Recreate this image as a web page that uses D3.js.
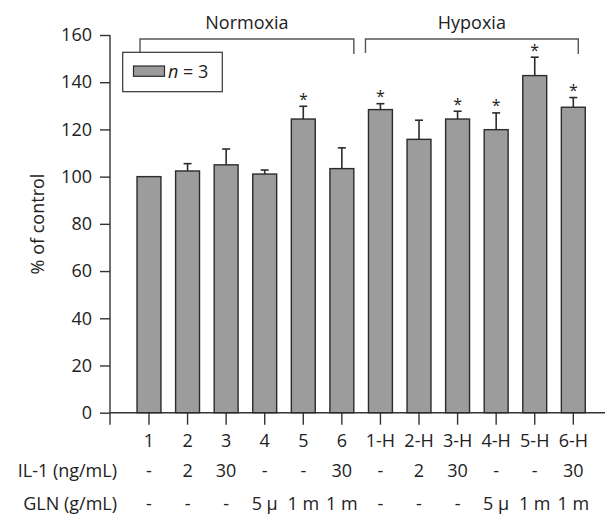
<!DOCTYPE html>
<html>
<head>
<meta charset="utf-8">
<script src="https://cdn.jsdelivr.net/npm/d3@7"></script>
<style>
  body { margin: 0; background: #fff; }
  svg text { font-family: "Open Sans", "Noto Sans", sans-serif; fill: #222; }
</style>
</head>
<body>
<div id="chart"></div>
<script>
// chart values
const categories = ["1", "2", "3", "4", "5", "6", "1-H", "2-H", "3-H", "4-H", "5-H", "6-H"];
const means = [100, 102.4, 105, 101.1, 124.4, 103.4, 128.4, 115.8, 124.4, 119.9, 142.8, 129.4];
const upperErr = [0, 3.1, 6.7, 1.7, 5.4, 8.8, 2.5, 8.1, 3.3, 7.1, 7.8, 4.1];
const significant = [false, false, false, false, true, false, true, false, true, true, true, true];
const il1Doses = ["-", "2", "30", "-", "-", "30", "-", "2", "30", "-", "-", "30"];
const glnDoses = ["-", "-", "-", "5 μ", "1 m", "1 m", "-", "-", "-", "5 μ", "1 m", "1 m"];
const groupNames = ["Normoxia", "Hypoxia"];
const groupFirst = ["1", "1-H"];
const groupLast = ["6", "6-H"];
const yTicks = [0, 20, 40, 60, 80, 100, 120, 140, 160];
const rowLabels = ["IL-1 (ng/mL)", "GLN (g/mL)"];

const width = 610, height = 515;
const axisX = 110, axisY = 412.7;

const svg = d3.select("#chart").append("svg")
    .attr("width", width)
    .attr("height", height);

const x = d3.scaleBand()
    .domain(categories)
    .range([129.7, 592.6])
    .paddingInner(0.38)
    .paddingOuter(0.19);

const y = d3.scaleLinear()
    .domain([0, 160])
    .range([axisY, 35]);

const cx = d => x(d) + x.bandwidth() / 2;

// y axis
const yAxis = svg.append("g")
    .attr("transform", `translate(${axisX},0)`)
    .call(d3.axisLeft(y).tickValues(yTicks).tickSize(10).tickPadding(8));
yAxis.select(".domain").attr("d", `M0,${y(160)}V${axisY + 12}`);
yAxis.selectAll("line, path").attr("stroke", "#333").attr("stroke-width", 1.4);
yAxis.selectAll("text")
    .attr("font-size", 18)
    .attr("fill", "#222")
    .style("font-family", "'Open Sans', sans-serif");

svg.append("text")
    .attr("transform", `translate(44,224) rotate(-90)`)
    .attr("text-anchor", "middle")
    .attr("font-size", 18)
    .text("% of control");

// x axis (band ticks are already centred by d3)
const xAxis = svg.append("g")
    .attr("transform", `translate(0,${axisY})`)
    .call(d3.axisBottom(x).tickSize(12).tickPadding(10).tickSizeOuter(0));
xAxis.select(".domain").attr("d", `M${axisX},0H605`);
xAxis.selectAll("line, path").attr("stroke", "#333").attr("stroke-width", 1.4);
xAxis.selectAll(".tick text")
    .attr("font-size", 18)
    .attr("fill", "#222")
    .style("font-family", "'Open Sans', sans-serif");

// bars
svg.append("g").selectAll("rect")
    .data(categories)
    .join("rect")
    .attr("x", d => x(d))
    .attr("width", x.bandwidth())
    .attr("y", (d, i) => y(means[i]))
    .attr("height", (d, i) => axisY - y(means[i]))
    .attr("fill", "#9c9c9c")
    .attr("stroke", "#2b2b2b")
    .attr("stroke-width", 1.4);

// upper error bars
const errs = svg.append("g").attr("stroke", "#2b2b2b").attr("stroke-width", 1.6);
categories.forEach((c, i) => {
    if (upperErr[i] <= 0) return;
    const top = y(means[i] + upperErr[i]);
    errs.append("line")
        .attr("x1", cx(c)).attr("x2", cx(c))
        .attr("y1", y(means[i])).attr("y2", top);
    errs.append("line")
        .attr("x1", cx(c) - 4).attr("x2", cx(c) + 4)
        .attr("y1", top).attr("y2", top);
});

// significance stars
svg.append("g").selectAll("text")
    .data(categories.filter((c, i) => significant[i]))
    .join("text")
    .attr("x", d => cx(d))
    .attr("y", d => {
        const i = categories.indexOf(d);
        return y(means[i] + upperErr[i]) - 1.5;
    })
    .attr("text-anchor", "middle")
    .attr("font-size", 16)
    .attr("fill", "#444")
    .text("*");

// condition brackets
const bracketY = 39;
groupNames.forEach((name, g) => {
    const left = g === 0 ? x(groupFirst[g]) + 3 : x(groupFirst[g]) - 3;
    const right = g === 0 ? x(groupLast[g]) + x.bandwidth() : x(groupLast[g]) + x.bandwidth() - 7;
    svg.append("path")
        .attr("d", `M${left},${bracketY + 14}V${bracketY}H${right}V${bracketY + 15}`)
        .attr("fill", "none")
        .attr("stroke", "#555")
        .attr("stroke-width", 1.4);
    svg.append("text")
        .attr("x", (left + right) / 2)
        .attr("y", 29)
        .attr("text-anchor", "middle")
        .attr("font-size", 18)
        .text(name);
});

// legend
const legend = svg.append("g");
legend.append("rect")
    .attr("x", 122.7).attr("y", 52.3)
    .attr("width", 99.6).attr("height", 39.4)
    .attr("fill", "#fff")
    .attr("stroke", "#333")
    .attr("stroke-width", 1.2);
legend.append("rect")
    .attr("x", 133.5).attr("y", 66)
    .attr("width", 31).attr("height", 10.3)
    .attr("fill", "#9c9c9c")
    .attr("stroke", "#2b2b2b")
    .attr("stroke-width", 1.2);
const lt = legend.append("text")
    .attr("x", 168).attr("y", 77.5)
    .attr("font-size", 18);
lt.append("tspan").attr("font-style", "italic").text("n");
lt.append("tspan").text(" = 3");

// dose rows under the axis
const rowY = [477, 510];
[il1Doses, glnDoses].forEach((row, r) => {
    svg.append("text")
        .attr("x", 117)
        .attr("y", rowY[r])
        .attr("text-anchor", "end")
        .attr("font-size", 18)
        .text(rowLabels[r]);
    svg.append("g").selectAll("text")
        .data(categories)
        .join("text")
        .attr("x", d => cx(d))
        .attr("y", rowY[r])
        .attr("text-anchor", "middle")
        .attr("font-size", 18)
        .text((d, i) => row[i]);
});
</script>
</body>
</html>
